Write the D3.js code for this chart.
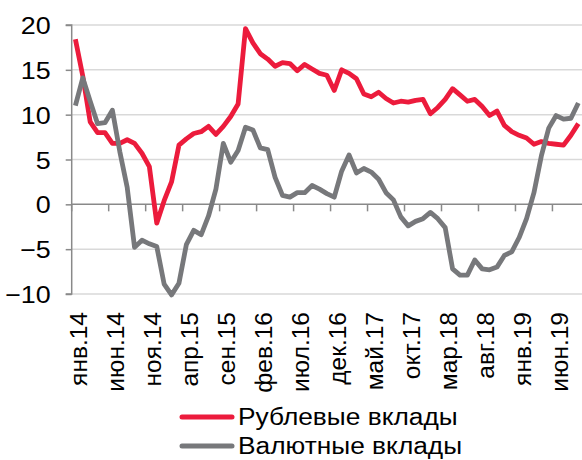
<!DOCTYPE html>
<html><head><meta charset="utf-8">
<script src="https://cdn.jsdelivr.net/npm/d3@7"></script>
<style>body{margin:0;background:#fff}svg{display:block}text{font-family:"Liberation Sans",Arial,sans-serif;fill:#000}</style>
</head><body><svg id="c" width="582" height="460"></svg>
<script>
const monthAbbr = ["янв","фев","мар","апр","май","июн","июл","авг","сен","окт","ноя","дек"];
const years = ["14","15","16","17","18","19"];
const nMonths = 69;
const categories = [];
for (let i = 0; i < nMonths; i++) categories.push(monthAbbr[i % 12] + "." + years[Math.floor(i / 12)]);
const tickLabels = ["янв.14","июн.14","ноя.14","апр.15","сен.15","фев.16","июл.16","дек.16","май.17","окт.17","мар.18","авг.18","янв.19","июн.19"];
const yTicks = [-10,-5,0,5,10,15,20];
const seriesNames = ["Рублевые вклады","Валютные вклады"];
const rubDeposits = [18.4,14.3,9.2,8.0,8.0,6.8,6.8,7.2,6.8,5.7,4.2,-2.1,0.4,2.5,6.6,7.3,7.9,8.1,8.7,7.8,8.7,9.8,11.2,19.6,18.0,16.8,16.2,15.4,15.8,15.7,14.9,15.6,15.1,14.6,14.4,12.7,15.0,14.6,14.0,12.3,12.0,12.5,11.8,11.3,11.5,11.4,11.6,11.7,10.1,10.8,11.7,12.9,12.2,11.5,11.7,10.9,9.9,10.4,8.8,8.1,7.7,7.4,6.7,7.0,6.8,6.7,6.6,7.7,9.0];
const fxDeposits = [11.0,14.1,11.5,9.0,9.1,10.5,5.9,1.9,-4.8,-4.0,-4.4,-4.7,-8.9,-10.1,-8.8,-4.5,-2.9,-3.4,-1.3,1.7,6.8,4.7,6.0,8.6,8.3,6.3,6.1,3.0,1.0,0.8,1.3,1.3,2.1,1.7,1.2,0.8,3.7,5.5,3.5,4.0,3.6,2.8,1.3,0.5,-1.4,-2.4,-1.9,-1.6,-0.9,-1.6,-2.6,-7.2,-7.9,-7.9,-6.2,-7.2,-7.3,-7.0,-5.7,-5.3,-3.7,-1.6,1.3,5.4,8.5,9.9,9.5,9.6,11.3];
const colors = ["#EC1B3C","#77787B"];

const svg = d3.select("#c");
const pLeft = 71.7, pRight = 71.7 + 69 * 7.396, pTop = 25, pBottom = 294;
const x = d3.scaleBand().domain(categories).range([pLeft, pRight]).padding(0);
const y = d3.scaleLinear().domain([-10, 20]).range([pBottom, pTop]);
const cx = c => x(c) + x.bandwidth() / 2;

// gridlines
svg.append("g").selectAll("line").data(yTicks.filter(v => v !== 0)).join("line")
  .attr("x1", pLeft).attr("x2", 582).attr("y1", d => y(d)).attr("y2", d => y(d))
  .attr("stroke", "#D9D9D9").attr("stroke-width", 1.5);

// y axis
const yAxis = svg.append("g").attr("transform", `translate(${pLeft},0)`)
  .call(d3.axisLeft(y).tickValues(yTicks).tickSize(6).tickFormat(d3.format("d")));
yAxis.select(".domain").attr("stroke", "#898989").attr("stroke-width", 1.5).attr("d", `M-6,${y(20)}H0V${y(-10)}H-6`);
yAxis.selectAll(".tick line").attr("stroke", "#898989").attr("stroke-width", 1.5);
yAxis.selectAll(".tick text").attr("x", null).attr("dy", null)
  .attr("transform", "translate(-21,8.5) scale(1.12,1)")
  .attr("font-size", 24).attr("fill", "#000").attr("font-family", "Liberation Sans, Arial, sans-serif");

// x axis line at zero with boundary ticks
const boundaryIdx = d3.range(0, nMonths, 5);
const xg = svg.append("g");
xg.append("line").attr("x1", pLeft).attr("x2", 582).attr("y1", y(0)).attr("y2", y(0))
  .attr("stroke", "#898989").attr("stroke-width", 1.5);
xg.selectAll("line.t").data(boundaryIdx).join("line").attr("class", "t")
  .attr("x1", i => x(categories[i])).attr("x2", i => x(categories[i]))
  .attr("y1", y(0)).attr("y2", y(0) + 7).attr("stroke", "#898989").attr("stroke-width", 1.5);

// x labels (rotated) at bottom
svg.append("g").selectAll("text").data(tickLabels).join("text")
  .attr("transform", d => `translate(${cx(d)},312) rotate(-90)`)
  .attr("text-anchor", "end").attr("dy", "0.47em").attr("font-size", 24.5)
  .text(d => d);

// lines
const line = d3.line().x((d, i) => cx(categories[i])).y(d => y(d));
[rubDeposits, fxDeposits].forEach((s, k) => {
  svg.append("path").datum(s).attr("d", line).attr("fill", "none")
    .attr("stroke", colors[k]).attr("stroke-width", 4.8).attr("stroke-linejoin", "round");
});

// legend
const lg = svg.append("g");
seriesNames.forEach((n, k) => {
  const ly = 417 + k * 29;
  lg.append("line").attr("x1", 182).attr("x2", 232).attr("y1", ly).attr("y2", ly)
    .attr("stroke", colors[k]).attr("stroke-width", 5).attr("stroke-linecap", "round");
  lg.append("text").attr("transform", `translate(238,${ly}) scale(1.12,1)`)
    .attr("dy", "0.33em").attr("font-size", 23.5).text(n);
});
</script></body></html>
